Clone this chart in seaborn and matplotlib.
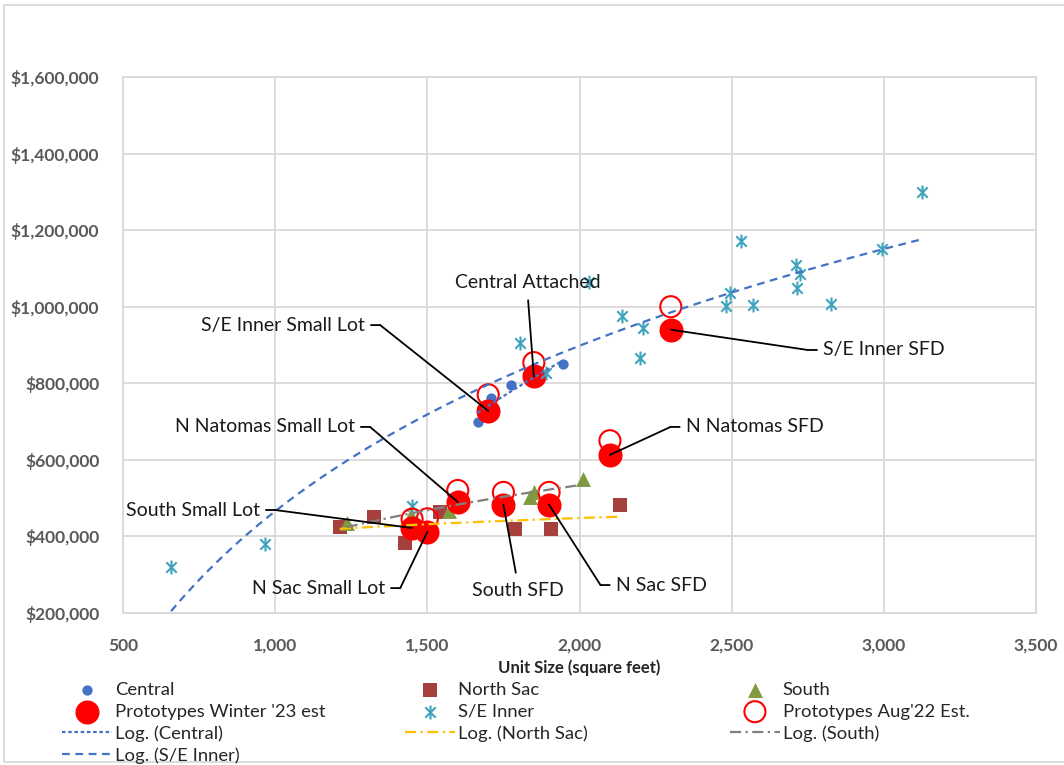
import numpy as np
import matplotlib
matplotlib.use("Agg")
import matplotlib.pyplot as plt
from matplotlib.path import Path
from matplotlib.patches import Rectangle
from matplotlib.ticker import FuncFormatter, MultipleLocator
import seaborn as sns

# ---- Unit size (square feet) vs. price, by area ----
central_size = [1665, 1710, 1775, 1945]
central_price = [700000, 762000, 795000, 850000]

north_sac_size = [1212, 1324, 1426, 1542, 1789, 1905, 2132]
north_sac_price = [425000, 451000, 383000, 464000, 420000, 420000, 483000]

south_size = [1235, 1446, 1571, 1838, 1852, 2013]
south_price = [435000, 456000, 467000, 504000, 517000, 551000]

se_inner_size = [658, 965, 1450, 1805, 1890, 2030, 2140, 2200, 2210, 2480,
                 2495, 2530, 2570, 2710, 2715, 2725, 2825, 2995, 3125]
se_inner_price = [320000, 380000, 480000, 905000, 828000, 1065000, 975000,
                  867000, 945000, 1003000, 1035000, 1172000, 1005000,
                  1108000, 1050000, 1085000, 1007000, 1150000, 1300000]

# ---- Prototype estimates ----
proto_names = ["S/E Inner Small Lot", "Central Attached", "S/E Inner SFD",
               "N Natomas SFD", "N Natomas Small Lot", "South Small Lot",
               "N Sac Small Lot", "South SFD", "N Sac SFD"]
proto_size = [1700, 1850, 2300, 2100, 1600, 1450, 1500, 1750, 1900]
proto_winter23 = [728000, 818000, 940000, 613000, 490000, 422000, 412000,
                  483000, 483000]
proto_aug22 = [770000, 854000, 1000000, 650000, 520000, 445000, 446000,
               515000, 515000]

x_ticks = [500, 1000, 1500, 2000, 2500, 3000, 3500]

# ---- style ----
sns.set_theme(style="white")
plt.rcParams["font.family"] = ["Lato", "DejaVu Sans"]

C_BLUE = "#4472C4"
C_NSAC = "#A5403D"
C_SOUTH = "#7F9A3F"
C_TEAL = "#3FA3BE"
C_RED = "#FF0000"
C_GRID = "#D9D9D9"
C_TICK = "#595959"

# asterisk-style marker: an X crossed by a vertical stroke
star = Path([(0, -1), (0, 1), (-0.75, -0.75), (0.75, 0.75),
             (-0.75, 0.75), (0.75, -0.75)],
            [Path.MOVETO, Path.LINETO, Path.MOVETO, Path.LINETO,
             Path.MOVETO, Path.LINETO])

fig = plt.figure(figsize=(10.64, 7.65), dpi=100)
ax = fig.add_axes([123 / 1064, 1 - 613 / 765, 913 / 1064, 536 / 765])

# scatter series
sns.scatterplot(x=central_size, y=central_price, ax=ax, color=C_BLUE,
                marker="o", s=55, linewidth=0, label="Central")
sns.scatterplot(x=north_sac_size, y=north_sac_price, ax=ax, color=C_NSAC,
                marker="s", s=110, linewidth=0, label="North Sac")
sns.scatterplot(x=south_size, y=south_price, ax=ax, color=C_SOUTH,
                marker="^", s=115, linewidth=0, label="South")
sns.scatterplot(x=proto_size, y=proto_winter23, ax=ax, color=C_RED,
                marker="o", s=300, linewidth=0,
                label="Prototypes Winter '23 est")
sns.scatterplot(x=se_inner_size, y=se_inner_price, ax=ax, color=C_TEAL,
                edgecolor=C_TEAL, marker=star, s=100, linewidth=1.5,
                label="S/E Inner")
sns.scatterplot(x=proto_size, y=proto_aug22, ax=ax, color=C_RED,
                facecolor="none", edgecolor=C_RED, marker="o", s=230,
                linewidth=1.5, label="Prototypes Aug'22 Est.")

# logarithmic trend lines
sns.regplot(x=central_size, y=central_price, ax=ax, logx=True, scatter=False,
            ci=None, truncate=True, label="Log. (Central)",
            line_kws=dict(color=C_BLUE, lw=1.6, ls=(0, (1.6, 1.2))))
sns.regplot(x=north_sac_size, y=north_sac_price, ax=ax, logx=True,
            scatter=False, ci=None, truncate=True, label="Log. (North Sac)",
            line_kws=dict(color="#FFC000", lw=1.6, ls=(0, (5, 2, 1, 2))))
sns.regplot(x=south_size, y=south_price, ax=ax, logx=True, scatter=False,
            ci=None, truncate=True, label="Log. (South)",
            line_kws=dict(color="#808080", lw=1.6, ls=(0, (5, 2, 1, 2))))
sns.regplot(x=se_inner_size, y=se_inner_price, ax=ax, logx=True,
            scatter=False, ci=None, truncate=True, label="Log. (S/E Inner)",
            line_kws=dict(color=C_BLUE, lw=1.6, ls=(0, (3.5, 2.5))))

# axes, grid, ticks
ax.set_xlim(500, 3500)
ax.set_ylim(200000, 1600000)
ax.xaxis.set_major_locator(MultipleLocator(500))
ax.yaxis.set_major_locator(MultipleLocator(200000))
ax.xaxis.set_major_formatter(FuncFormatter(lambda v, p: f"{v:,.0f}"))
ax.yaxis.set_major_formatter(FuncFormatter(lambda v, p: f"${v:,.0f}"))
ax.grid(True, color=C_GRID, lw=1.3)
ax.set_axisbelow(True)
for sp in ax.spines.values():
    sp.set_color(C_GRID)
    sp.set_linewidth(1.3)
ax.tick_params(axis="both", length=0, labelsize=12.5, labelcolor=C_TICK)
ax.tick_params(axis="x", pad=18)
ax.tick_params(axis="y", pad=17)
for lab in ax.get_xticklabels() + ax.get_yticklabels():
    lab.set_fontweight("bold")
ax.set_xlabel("Unit Size (square feet)", fontsize=12, fontweight="bold",
              color="#262626", labelpad=4)
ax.set_ylabel("")

# callout labels with a short horizontal tail next to the text
LBL = dict(fontsize=14, color="#1A1A1A")
LINE = dict(arrowstyle="-", color="black", lw=1.3)
elbow_labels = [
    ("S/E Inner Small Lot", 1345, 952000, "left"),
    ("N Natomas Small Lot", 1312, 686000, "left"),
    ("South Small Lot", 1000, 469000, "left"),
    ("N Sac Small Lot", 1411, 265000, "left"),
    ("N Natomas SFD", 2299, 686000, "right"),
    ("S/E Inner SFD", 2750, 887000, "right"),
    ("N Sac SFD", 2069, 273000, "right"),
]
for name, ex, ey, side in elbow_labels:
    i = proto_names.index(name)
    ax.annotate("", xy=(proto_size[i], proto_winter23[i]), xytext=(ex, ey),
                arrowprops=dict(**LINE, shrinkA=0, shrinkB=0))
    off = -11 if side == "left" else 11
    ax.annotate(name, xy=(ex, ey), xytext=(off, 0), textcoords="offset points",
                ha="right" if side == "left" else "left", va="center",
                arrowprops=dict(**LINE, shrinkA=2, shrinkB=0), **LBL)

center_labels = [
    ("Central Attached", 1829, 1062000, (0.5, 0.0)),
    ("South SFD", 1796, 260000, (0.5, 1.0)),
]
for name, tx, ty, rel in center_labels:
    i = proto_names.index(name)
    ax.annotate(name, xy=(proto_size[i], proto_winter23[i]), xytext=(tx, ty),
                ha="center", va="center",
                arrowprops=dict(**LINE, relpos=rel, shrinkA=4, shrinkB=0),
                **LBL)

# legend in three columns beneath the axis title
handles, labels = ax.get_legend_handles_labels()
if ax.get_legend() is not None:
    ax.get_legend().remove()
lookup = dict(zip(labels, handles))
columns = [
    (62, ["Central", "Prototypes Winter '23 est", "Log. (Central)",
          "Log. (S/E Inner)"]),
    (405, ["North Sac", "S/E Inner", "Log. (North Sac)"]),
    (730, ["South", "Prototypes Aug'22 Est.", "Log. (South)"]),
]
for x0, names in columns:
    fig.legend([lookup[n] for n in names], names, loc="upper left",
               bbox_to_anchor=(x0 / 1064, 1 - 682 / 765), frameon=False,
               fontsize=13.3, labelcolor="#262626", borderpad=0,
               borderaxespad=0, handlelength=2.7, handletextpad=0.15,
               labelspacing=0.3, scatterpoints=1)

# chart-area border
fig.add_artist(Rectangle((4 / 1064, 3 / 765), 1.2, 1 - 8 / 765,
                         transform=fig.transFigure, fill=False,
                         edgecolor=C_GRID, lw=1.3, clip_on=False))

fig.savefig("out.png", dpi=100)
